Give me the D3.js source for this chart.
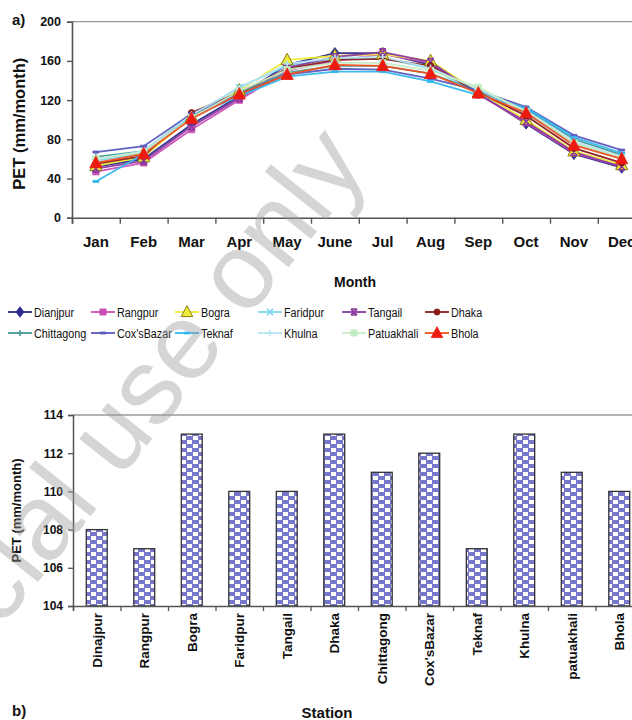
<!DOCTYPE html>
<html><head><meta charset="utf-8">
<script src="https://cdn.jsdelivr.net/npm/d3@7"></script>
<style>
html,body{margin:0;padding:0;background:#fff;}
svg{display:block;}
text{font-family:"Liberation Sans",Arial,sans-serif;}
</style></head>
<body>
<svg id="c" width="632" height="720"></svg>
<script>
// ---------- data ----------
const months = ["Jan","Feb","Mar","Apr","May","June","Jul","Aug","Sep","Oct","Nov","Dec"];
const seriesNames = ["Dianjpur","Rangpur","Bogra","Faridpur","Tangail","Dhaka","Chittagong","Cox'sBazar","Teknaf","Khulna","Patuakhali","Bhola"];
const dinajpurPET   = [52,60,95,124,156,168,168,156,127,96,65,51];
const rangpurPET    = [47,56,90,120,150,160,167,158,126,97,66,52];
const bograPET      = [53,62,103,130,161,165,167,160,128,100,68,54];
const faridpurPET   = [58,66,104,133,155,162,163,152,128,106,76,60];
const tangailPET    = [50,58,93,122,153,164,169,159,126,98,67,52];
const dhakaPET      = [55,63,107,128,152,161,162,155,128,104,71,56];
const chittagongPET = [62,68,105,127,148,155,155,147,129,111,80,64];
const coxsbazarPET  = [67,73,106,126,146,152,151,142,130,113,84,69];
const teknafPET     = [37,65,103,124,144,149,149,139,125,112,82,66];
const khulnaPET     = [60,68,105,132,157,163,164,153,131,109,78,62];
const patuakhaliPET = [60,67,102,129,151,158,158,150,133,108,76,61];
const bholaPET      = [56,65,101,126,146,156,155,147,127,107,74,60];
const yTicksTop = [0,40,80,120,160,200];

const stations = ["Dinajpur","Rangpur","Bogra","Faridpur","Tangail","Dhaka","Chittagong","Cox'sBazar","Teknaf","Khulna","patuakhali","Bhola"];
const annualPET = [108,107,113,110,110,113,111,112,107,113,111,110];
const yTicksBottom = [104,106,108,110,112,114];

const seriesValues = [dinajpurPET,rangpurPET,bograPET,faridpurPET,tangailPET,dhakaPET,chittagongPET,coxsbazarPET,teknafPET,khulnaPET,patuakhaliPET,bholaPET];

// ---------- styles ----------
const colors = ["#2a2a8c","#cc4fb8","#eeea3a","#7fd8ee","#8a3a9e","#8a1c1c","#4a9a96","#5a5ac0","#33b8ee","#b8e4f4","#c4ecc4","#f05020"];
const markerFill = ["#2a2a8c","#cc4fb8","#eeea3a","#7fd8ee","#8a3a9e","#8a1c1c","#4a9a96","#5a5ac0","#33b8ee","#b8e4f4","#c4ecc4","#ee1c10"];

// custom symbol types
const sym = {
  diamond:{draw(c,s){const r=Math.sqrt(s)/1.4;c.moveTo(0,-r);c.lineTo(r*0.75,0);c.lineTo(0,r);c.lineTo(-r*0.75,0);c.closePath();}},
  square:{draw(c,s){const r=Math.sqrt(s)/2;c.rect(-r,-r,2*r,2*r);}},
  triangle:{draw(c,s){const r=Math.sqrt(s)/1.6;c.moveTo(0,-r*1.1);c.lineTo(r,r*0.8);c.lineTo(-r,r*0.8);c.closePath();}},
  x:{draw(c,s){const r=Math.sqrt(s)/2;c.moveTo(-r,-r);c.lineTo(r,r);c.moveTo(r,-r);c.lineTo(-r,r);}},
  star:{draw(c,s){const r=Math.sqrt(s)/2;c.moveTo(-r,-r);c.lineTo(r,r);c.moveTo(r,-r);c.lineTo(-r,r);c.moveTo(-r,-r);c.lineTo(r,-r);c.moveTo(-r,r);c.lineTo(r,r);}},
  circle:{draw(c,s){const r=Math.sqrt(s)/2;c.moveTo(r,0);c.arc(0,0,r,0,2*Math.PI);}},
  plus:{draw(c,s){const r=Math.sqrt(s)/2;c.moveTo(0,-r);c.lineTo(0,r);c.moveTo(-r,0);c.lineTo(r,0);}},
  dash:{draw(c,s){const r=Math.sqrt(s)/2;c.rect(-r,-1,2*r,2);}}
};
const markers = ["diamond","square","triangle","x","star","circle","plus","dash","dash","plus","square","triangle"];
const strokeMarkers = new Set(["x","star","plus"]);

const svg = d3.select("#c");

// ---------- chart a ----------
const A = {left:72, top:21.7, bottom:217.7, step:47.8};
const xBand = d3.scaleBand().domain(months).range([A.left, A.left + A.step*12]);
const xIdx = d3.scaleLinear().domain([0,12]).range([A.left, A.left + A.step*12]);
const yTop = d3.scaleLinear().domain([0,200]).range([A.bottom, A.top]);

const gA = svg.append("g");
gA.append("line").attr("x1",A.left).attr("x2",632).attr("y1",yTop(200)).attr("y2",yTop(200))
  .attr("stroke","#9a9a9a").attr("stroke-width",1.3);

const yAxA = gA.append("g").attr("transform",`translate(${A.left},0)`)
  .call(d3.axisLeft(yTop).tickValues(yTicksTop).tickSize(5).tickPadding(6).tickFormat(d3.format("d")));
const xTickA = gA.append("g").attr("transform",`translate(0,${A.bottom})`)
  .call(d3.axisBottom(xIdx).ticks(12).tickSize(6).tickFormat(""));
const xLabA = gA.append("g").attr("transform",`translate(0,${A.bottom})`)
  .call(d3.axisBottom(xBand).tickSize(0).tickPadding(19));
[yAxA,xTickA,xLabA].forEach(g=>{
  g.selectAll(".domain").attr("stroke","#555").attr("stroke-width",1.6);
  g.selectAll(".tick line").attr("stroke","#555").attr("stroke-width",1.4);
});
xLabA.select(".domain").remove();
yAxA.selectAll("text").attr("font-size",12.5).attr("font-weight","bold").attr("fill","#111");
xLabA.selectAll("text").attr("font-size",15).attr("font-weight","bold").attr("fill","#111");

gA.append("text").attr("transform",`translate(25,${(A.top+A.bottom)/2+4}) rotate(-90)`)
  .attr("text-anchor","middle").attr("font-size",16.5).attr("font-weight","bold").attr("fill","#111")
  .text("PET (mm/month)");
gA.append("text").attr("x",355).attr("y",287).attr("text-anchor","middle")
  .attr("font-size",14).attr("font-weight","bold").attr("fill","#111").text("Month");
svg.append("text").attr("x",12).attr("y",25).attr("font-family","Liberation Serif, Times New Roman, serif")
  .attr("font-size",15).attr("font-weight","bold").attr("fill","#111").text("a)");

const line = d3.line().x((d,i)=>xBand(months[i])+xBand.bandwidth()/2).y(d=>yTop(d));
const plotA = gA.append("g");
seriesValues.forEach((vals,si)=>{
  plotA.append("path").datum(vals).attr("d",line).attr("fill","none")
    .attr("stroke",colors[si]).attr("stroke-width",1.8).attr("opacity",0.95);
});
function drawMarker(g, si, x, y, scale){
  const m = markers[si];
  const size = (m==="triangle"?95:m==="dash"?36:m==="circle"?42:m==="diamond"?60:42)*(scale||1);
  const p = g.append("path").attr("transform",`translate(${x},${y})`)
    .attr("d", d3.symbol().type(sym[m]).size(size)());
  if (strokeMarkers.has(m)) p.attr("fill","none").attr("stroke",colors[si]).attr("stroke-width",1.6);
  else if (m==="triangle" && si===2) p.attr("fill",markerFill[si]).attr("stroke","#8a7a10").attr("stroke-width",1);
  else p.attr("fill",markerFill[si]).attr("stroke",markerFill[si]).attr("stroke-width",0.8);
}
seriesValues.forEach((vals,si)=>{
  vals.forEach((v,i)=>drawMarker(plotA, si, xBand(months[i])+xBand.bandwidth()/2, yTop(v)));
});

// legend
const legCols = [8,91,175,258,342,425];
const legRows = [312,333];
const legG = svg.append("g");
seriesNames.forEach((name,si)=>{
  const cx = legCols[si%6], cy = legRows[Math.floor(si/6)];
  legG.append("line").attr("x1",cx).attr("x2",cx+24).attr("y1",cy).attr("y2",cy)
    .attr("stroke",colors[si]).attr("stroke-width",1.8);
  drawMarker(legG, si, cx+12, cy, 0.9);
  legG.append("text").attr("transform",`translate(${cx+26},${cy+4.5}) scale(0.8,1)`)
    .attr("font-size",13.5).attr("fill","#111").text(name);
});

// ---------- chart b ----------
const B = {left:73, top:415, bottom:606, step:47.5};
const defs = svg.append("defs");
const pat = defs.append("pattern").attr("id","chk").attr("patternUnits","userSpaceOnUse")
  .attr("width",12).attr("height",8);
pat.append("rect").attr("width",12).attr("height",8).attr("fill","#fff");
pat.append("rect").attr("x",0).attr("y",0).attr("width",7).attr("height",4).attr("fill","#7777cc");
pat.append("rect").attr("x",6).attr("y",4).attr("width",6).attr("height",4).attr("fill","#7777cc");
pat.append("rect").attr("x",0).attr("y",4).attr("width",1).attr("height",4).attr("fill","#7777cc");

const xB = d3.scaleBand().domain(stations).range([B.left, B.left + B.step*12]).paddingInner(0.56).paddingOuter(0.28);
const xBidx = d3.scaleLinear().domain([0,12]).range([B.left, B.left + B.step*12]);
const yB = d3.scaleLinear().domain([104,114]).range([B.bottom, B.top]);
const gB = svg.append("g");
gB.append("line").attr("x1",B.left).attr("x2",632).attr("y1",yB(114)).attr("y2",yB(114))
  .attr("stroke","#9a9a9a").attr("stroke-width",1.3);

gB.selectAll("rect.bar").data(annualPET).join("rect").attr("class","bar")
  .attr("x",(d,i)=>xB(stations[i])).attr("width",xB.bandwidth())
  .attr("y",d=>yB(d)).attr("height",d=>yB(104)-yB(d))
  .attr("fill","url(#chk)").attr("stroke","#333").attr("stroke-width",1.3);

const yAxB = gB.append("g").attr("transform",`translate(${B.left},0)`)
  .call(d3.axisLeft(yB).tickValues(yTicksBottom).tickSize(5).tickPadding(5).tickFormat(d3.format("d")));
const xTickB = gB.append("g").attr("transform",`translate(0,${B.bottom})`)
  .call(d3.axisBottom(xBidx).ticks(12).tickSize(5).tickFormat(""));
[yAxB,xTickB].forEach(g=>{
  g.selectAll(".domain").attr("stroke","#555").attr("stroke-width",1.5);
  g.selectAll(".tick line").attr("stroke","#555").attr("stroke-width",1.3);
});
yAxB.selectAll("text").attr("font-size",12).attr("font-weight","bold").attr("fill","#111");

gB.selectAll("text.st").data(stations).join("text").attr("class","st")
  .attr("transform",d=>`translate(${xB(d)+xB.bandwidth()/2+5},613) rotate(-90)`)
  .attr("text-anchor","end").attr("font-size",13.5).attr("font-weight","bold").attr("fill","#111")
  .text(d=>d);

gB.append("text").attr("transform",`translate(21,${(B.top+B.bottom)/2}) rotate(-90)`)
  .attr("text-anchor","middle").attr("font-size",13).attr("font-weight","bold").attr("fill","#111")
  .text("PET (mm/month)");
gB.append("text").attr("x",327).attr("y",718).attr("text-anchor","middle")
  .attr("font-size",15).attr("font-weight","bold").attr("fill","#111").text("Station");
svg.append("text").attr("x",12).attr("y",716).attr("font-family","Liberation Serif, Times New Roman, serif")
  .attr("font-size",15).attr("font-weight","bold").attr("fill","#111").text("b)");

// watermark
svg.append("text").attr("transform","translate(0,630) rotate(-51.5)")
  .attr("font-size",108).attr("fill","#9a9a9a").attr("fill-opacity",0.42)
  .text("cial use only");
</script>
</body></html>
